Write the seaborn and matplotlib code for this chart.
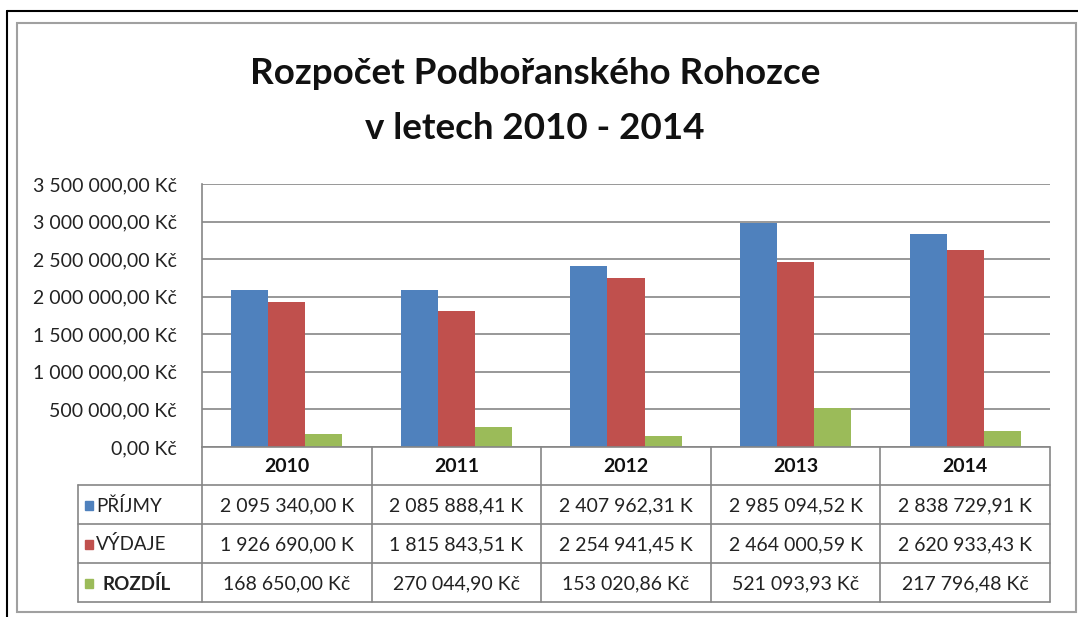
import numpy as np
import pandas as pd
import matplotlib
matplotlib.use('Agg')
import matplotlib.pyplot as plt
import seaborn as sns

# data from the chart
years = ['2010', '2011', '2012', '2013', '2014']
series_names = ['PŘÍJMY', 'VÝDAJE', 'ROZDÍL']
prijmy = [2095340.00, 2085888.41, 2407962.31, 2985094.52, 2838729.91]
vydaje = [1926690.00, 1815843.51, 2254941.45, 2464000.59, 2620933.43]
rozdil = [168650.00, 270044.90, 153020.86, 521093.93, 217796.48]
yticks = [0, 500000, 1000000, 1500000, 2000000, 2500000, 3000000, 3500000]
colors = ['#4F81BD', '#C0504D', '#9BBB59']

df = pd.DataFrame({
    'year': years * 3,
    'series': [s for s in series_names for _ in years],
    'value': prijmy + vydaje + rozdil,
})


def kc(v, cut=False):
    s = f"{v:,.2f}".replace(',', ' ').replace('.', ',')
    return s + (' K' if cut else ' Kč')


sns.set_style('white')
plt.rcParams['font.family'] = ['Lato', 'DejaVu Sans']
FS = 14

W, H = 1078, 617
fig = plt.figure(figsize=(W / 100, H / 100), dpi=100)

# pixel geometry of plot area
px_l, px_r, px_t, px_b = 202, 1050, 184, 447
ax = fig.add_axes([px_l / W, 1 - px_b / H, (px_r - px_l) / W, (px_b - px_t) / H])
sns.barplot(data=df, x='year', y='value', hue='series', palette=colors,
            width=0.655, gap=0, saturation=1, legend=False, linewidth=0, ax=ax)
ax.set_ylim(0, 3500000)
ax.set_yticks(yticks)
ax.set_yticklabels([kc(v) for v in yticks], fontsize=FS, color='#222222')
ax.set_xticklabels([])
ax.set_xlabel('')
ax.set_ylabel('')
ax.tick_params(axis='both', length=0, pad=18)
ax.yaxis.grid(True, color='#868686', linewidth=1.2)
ax.set_axisbelow(True)
for side in ['top', 'right', 'bottom']:
    ax.spines[side].set_visible(False)
ax.spines['left'].set_color('#868686')
ax.spines['left'].set_linewidth(1.2)
ax.set_xlim(-0.5, 4.5)

# overlay in pixel coordinates for frame, title and data table
ov = fig.add_axes([0, 0, 1, 1], zorder=-1)
ov.set_xlim(0, W)
ov.set_ylim(H, 0)
ov.axis('off')
ov2 = fig.add_axes([0, 0, 1, 1], zorder=5)
ov2.set_xlim(0, W)
ov2.set_ylim(H, 0)
ov2.axis('off')
ov2.patch.set_alpha(0)

# outer frame
ov.plot([7, 7], [11, 617], color='black', lw=1.5)
ov.plot([7, W], [11, 11], color='black', lw=1.5)
ov.add_patch(plt.Rectangle((17, 23), 1059, 589, fill=False, ec='#a0a0a0', lw=1.5))

ov2.text(535, 84, 'Rozpočet Podbořanského Rohozce', ha='center', va='baseline',
         fontsize=26.5, fontweight='bold', color='#111111')
ov2.text(535, 139, 'v letech 2010 - 2014', ha='center', va='baseline',
         fontsize=26.5, fontweight='bold', color='#111111')

# data table
col_w = (px_r - px_l) / len(years)
tab_l = 78
row_y = [px_b, 485, 524, 563, 602]
gc = '#868686'
for y in row_y[1:]:
    ov2.plot([tab_l, px_r], [y, y], color=gc, lw=1.2)
ov2.plot([px_l, px_r], [px_b, px_b], color=gc, lw=1.2)
ov2.plot([tab_l, tab_l], [row_y[1], row_y[-1]], color=gc, lw=1.2)
for i in range(len(years) + 1):
    x = px_l + i * col_w
    ov2.plot([x, x], [px_b, row_y[-1]], color=gc, lw=1.2)

for i, yr in enumerate(years):
    ov2.text(px_l + (i + 0.5) * col_w, (row_y[0] + row_y[1]) / 2 + 1, yr,
             ha='center', va='center', fontsize=FS, fontweight='bold', color='#111111')

rows = [prijmy, vydaje, rozdil]
for r, (name, vals) in enumerate(zip(series_names, rows)):
    yc = (row_y[r + 1] + row_y[r + 2]) / 2 + 1
    ov2.add_patch(plt.Rectangle((85, yc - 4.5), 8, 9, color=colors[r]))
    bold = r == 2
    ov2.text(96 if not bold else 103, yc, name, ha='left', va='center', fontsize=FS - 0.5,
             fontweight='bold' if bold else 'normal', color='#222222')
    for i, v in enumerate(vals):
        ov2.text(px_l + (i + 0.5) * col_w, yc, kc(v, cut=not bold),
                 ha='center', va='center', fontsize=FS, color='#222222')

fig.savefig('out.png', dpi=100)
